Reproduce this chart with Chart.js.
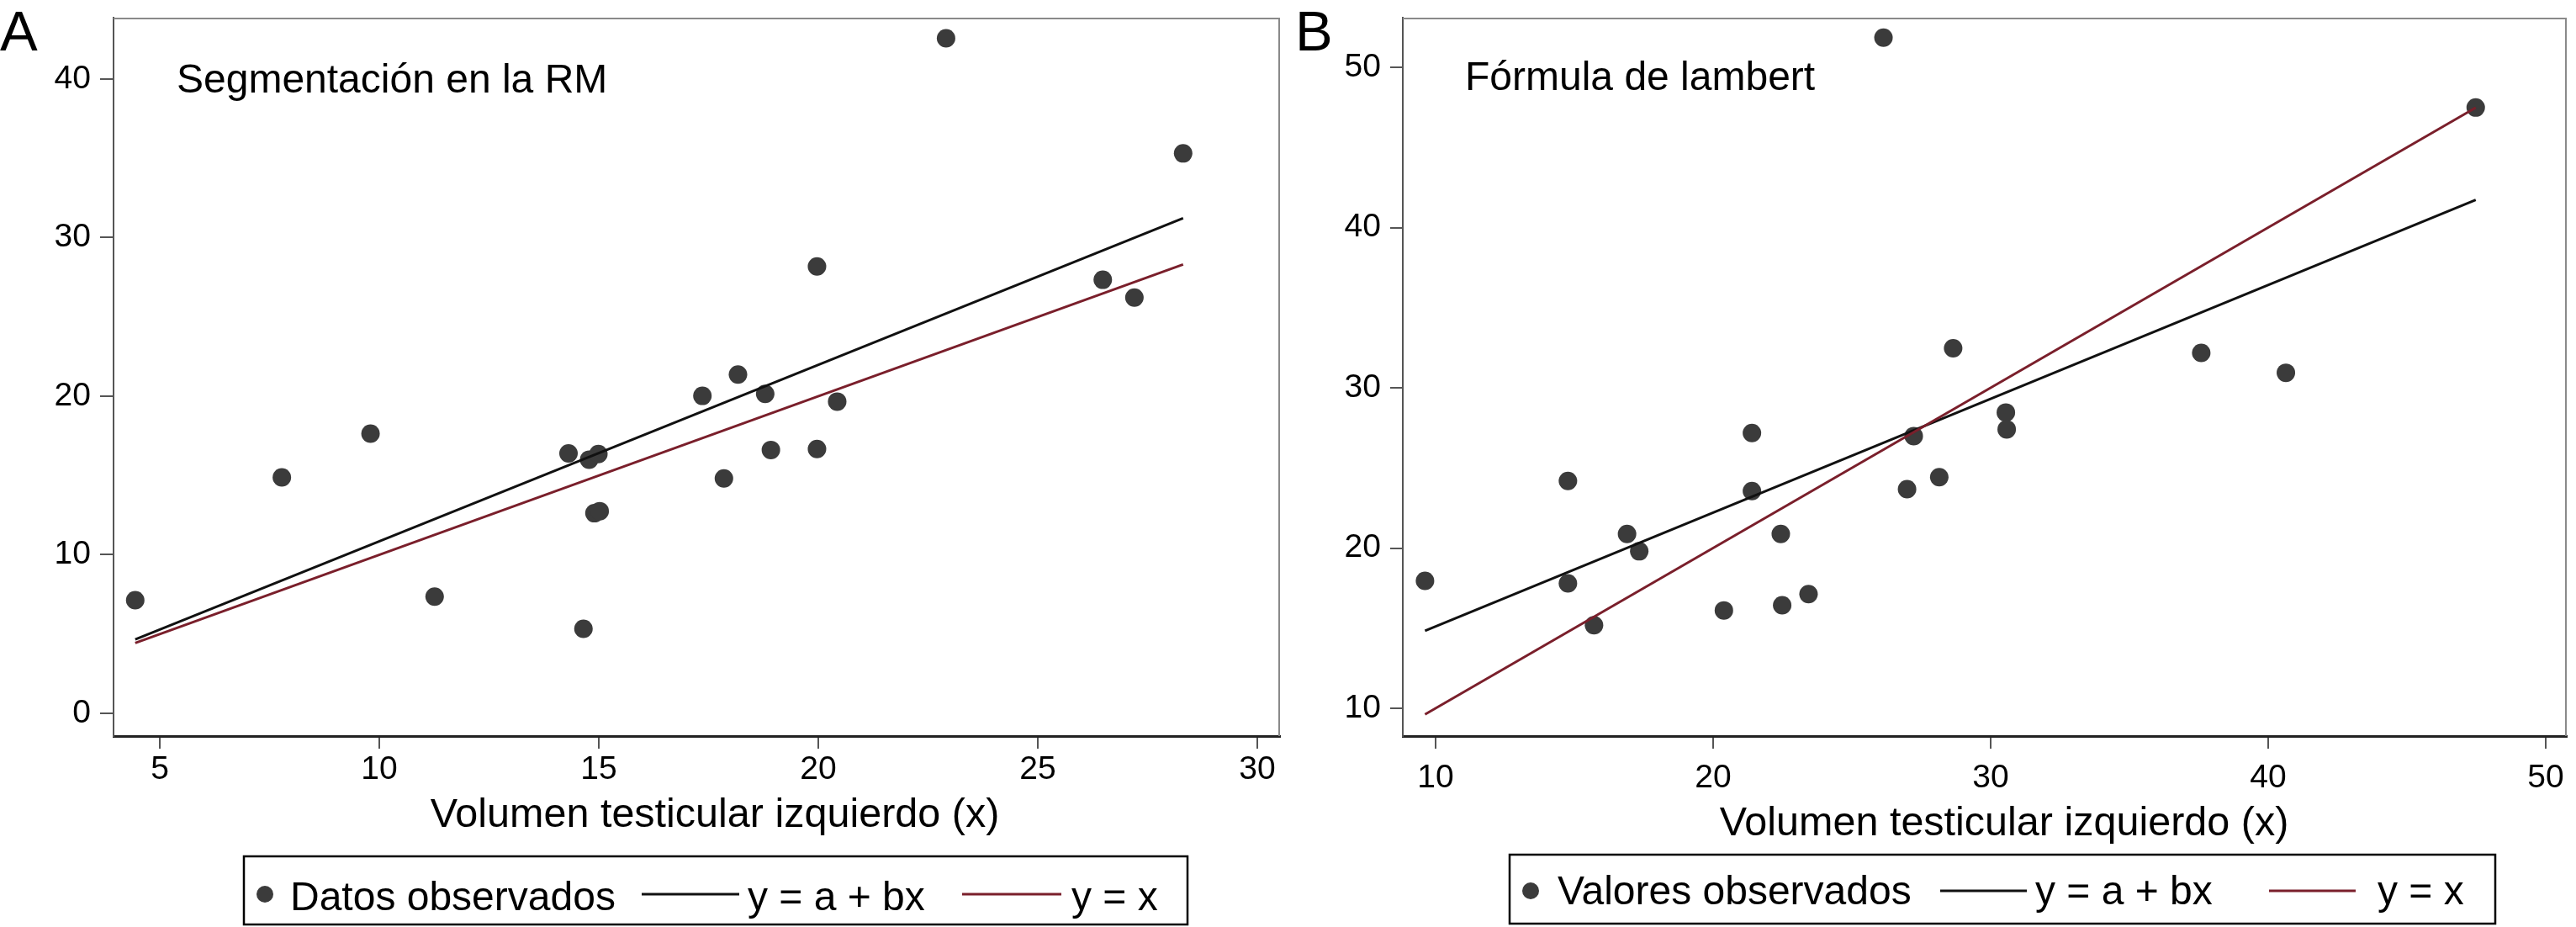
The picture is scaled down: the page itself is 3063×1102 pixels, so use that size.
<!DOCTYPE html>
<html>
<head>
<meta charset="utf-8">
<script src="https://cdn.jsdelivr.net/npm/chart.js@4.4.1/dist/chart.umd.min.js"></script>
<style>
  html, body { margin: 0; padding: 0; background: #fff; }
  body { width: 3063px; height: 1102px; position: relative; overflow: hidden; }
  canvas { position: absolute; top: 0; }
  #cA { left: 0; }
  #cB { left: 1540px; }
</style>
</head>
<body>
<canvas id="cA" width="1540" height="1102"></canvas>
<canvas id="cB" width="1523" height="1102"></canvas>
<script>
// ---------- Panel A: Segmentación en la RM ----------
const panelLabelA = "A";
const noteA = "Segmentación en la RM";
const xTitleA = "Volumen testicular izquierdo (x)";
const xTicksA = [5, 10, 15, 20, 25, 30];
const yTicksA = [0, 10, 20, 30, 40];
const obsLabelA = "Datos observados";
const obsXA = [4.44, 7.78, 9.80, 11.26, 14.31, 14.65, 14.78, 14.99, 14.90, 15.02, 17.36, 17.85, 18.17, 18.79, 18.92, 19.97, 19.97, 20.43, 22.91, 26.48, 27.20, 28.31];
const obsYA = [7.13, 14.88, 17.64, 7.36, 16.39, 5.33, 16.00, 16.35, 12.62, 12.75, 20.02, 14.81, 21.37, 20.14, 16.61, 28.18, 16.67, 19.66, 42.57, 27.34, 26.22, 35.31];
const fitLabelA = "y = a + bx";
const fitXA = [4.44, 28.31];
const fitYA = [4.66, 31.23];
const idLabelA = "y = x";
const idXA = [4.44, 28.31];
const idYA = [4.44, 28.31];

// ---------- Panel B: Fórmula de lambert ----------
const panelLabelB = "B";
const noteB = "Fórmula de lambert";
const xTitleB = "Volumen testicular izquierdo (x)";
const xTicksB = [10, 20, 30, 40, 50];
const yTicksB = [10, 20, 30, 40, 50];
const obsLabelB = "Valores observados";
const obsXB = [9.62, 14.77, 14.77, 15.71, 16.90, 17.34, 20.39, 21.40, 21.40, 22.44, 22.49, 23.44, 26.14, 26.99, 27.23, 28.15, 28.65, 30.55, 30.58, 37.59, 40.64, 47.48];
const obsYB = [17.96, 24.19, 17.80, 15.19, 20.88, 19.80, 16.11, 27.18, 23.56, 20.88, 16.43, 17.13, 51.85, 23.68, 26.99, 24.42, 32.47, 28.46, 27.41, 32.18, 30.94, 47.49];
const fitLabelB = "y = a + bx";
const fitXB = [9.62, 47.48];
const fitYB = [14.84, 41.73];
const idLabelB = "y = x";
const idXB = [9.62, 47.48];
const idYB = [9.62, 47.48];

const FONT = "'Liberation Sans', Arimo, Arial, Helvetica, sans-serif";
const DOT = '#3b3b3b';
const FIT = '#111111';
const IDC = '#7a1f2b';

function pts(xs, ys) { return xs.map((x, i) => ({ x: x, y: ys[i] })); }

const decorPlugin = {
  id: 'decor',
  afterDraw(chart, args, o) {
    const ctx = chart.ctx;
    const a = chart.chartArea;
    ctx.save();
    // top and right frame
    ctx.strokeStyle = '#8a8a8a';
    ctx.lineWidth = 2;
    ctx.beginPath();
    ctx.moveTo(a.left, a.top + 1);
    ctx.lineTo(a.right - 1, a.top + 1);
    ctx.lineTo(a.right - 1, a.bottom);
    ctx.stroke();
    // panel letter
    ctx.fillStyle = '#000';
    ctx.textBaseline = 'alphabetic';
    ctx.textAlign = 'left';
    ctx.font = '67px ' + FONT;
    ctx.fillText(o.letter, o.letterX, 60);
    // note inside plot
    ctx.font = '48px ' + FONT;
    ctx.fillText(o.note, o.noteX, o.noteY);
    // x-axis title
    ctx.textAlign = 'center';
    ctx.font = '48.5px ' + FONT;
    ctx.fillText(o.xTitle, o.titleX, o.titleY);
    // legend
    const L = o.legend;
    const ds = chart.data.datasets;
    ctx.strokeStyle = '#000';
    ctx.lineWidth = 2.5;
    ctx.strokeRect(L.box[0], L.box[1], L.box[2] - L.box[0], L.box[3] - L.box[1]);
    ctx.fillStyle = ds[0].backgroundColor;
    ctx.beginPath();
    ctx.arc(L.dotX, L.symY, 10, 0, Math.PI * 2);
    ctx.fill();
    ctx.lineWidth = 3;
    ctx.strokeStyle = ds[1].borderColor;
    ctx.beginPath(); ctx.moveTo(L.line1[0], L.symY); ctx.lineTo(L.line1[1], L.symY); ctx.stroke();
    ctx.strokeStyle = ds[2].borderColor;
    ctx.beginPath(); ctx.moveTo(L.line2[0], L.symY); ctx.lineTo(L.line2[1], L.symY); ctx.stroke();
    ctx.fillStyle = '#000';
    ctx.textAlign = 'left';
    ctx.font = '48px ' + FONT;
    ctx.fillText(ds[0].label, L.text[0], L.baseY);
    ctx.fillText(ds[1].label, L.text[1], L.baseY);
    ctx.fillText(ds[2].label, L.text[2], L.baseY);
    ctx.restore();
  }
};

function makeChart(id, d) {
  return new Chart(document.getElementById(id), {
    type: 'scatter',
    data: {
      datasets: [
        { label: d.obsLabel, data: pts(d.obsX, d.obsY), backgroundColor: DOT, borderColor: DOT,
          pointRadius: 11, pointBorderWidth: 0, showLine: false, order: 3 },
        { label: d.fitLabel, data: pts(d.fitX, d.fitY), borderColor: FIT, backgroundColor: FIT,
          borderWidth: 3, pointRadius: 0, showLine: true, order: 2 },
        { label: d.idLabel, data: pts(d.idX, d.idY), borderColor: IDC, backgroundColor: IDC,
          borderWidth: 3, pointRadius: 0, showLine: true, order: 1 }
      ]
    },
    options: {
      responsive: false,
      animation: false,
      devicePixelRatio: 1,
      layout: { padding: { left: 0, top: 21, right: d.padRight, bottom: 0 } },
      plugins: {
        legend: { display: false },
        tooltip: { enabled: false },
        decor: d.decor
      },
      scales: {
        x: {
          type: 'linear', min: d.xMin, max: d.xMax,
          afterBuildTicks: s => { s.ticks = d.xTicks.map(v => ({ value: v })); },
          afterFit: s => { s.height = 227; s.paddingLeft = 0; s.paddingRight = 0; },
          ticks: { color: '#000', font: { family: FONT, size: 39, lineHeight: 1 }, padding: d.xPad,
                   maxRotation: 0, autoSkip: false },
          grid: { drawOnChartArea: false, drawTicks: true, tickLength: 15, color: '#555', lineWidth: 2 },
          border: { display: true, color: '#222', width: 3 }
        },
        y: {
          type: 'linear', min: d.yMin, max: d.yMax,
          afterBuildTicks: s => { s.ticks = d.yTicks.map(v => ({ value: v })); },
          afterFit: s => { s.width = d.yWidth; s.paddingTop = 0; s.paddingBottom = 0; },
          ticks: { color: '#000', font: { family: FONT, size: 39, lineHeight: 1 }, padding: 11, autoSkip: false },
          grid: { drawOnChartArea: false, drawTicks: true, tickLength: d.yTick, color: '#555', lineWidth: 2 },
          border: { display: true, color: '#555', width: 2 }
        }
      }
    },
    plugins: [decorPlugin]
  });
}

makeChart('cA', {
  obsLabel: obsLabelA, obsX: obsXA, obsY: obsYA,
  fitLabel: fitLabelA, fitX: fitXA, fitY: fitYA,
  idLabel: idLabelA, idX: idXA, idY: idYA,
  xTicks: xTicksA, yTicks: yTicksA,
  xMin: 3.946, xMax: 30.517, yMin: -1.432, yMax: 43.87,
  padRight: 18, yWidth: 135, yTick: 16, xPad: 6,
  decor: {
    letter: panelLabelA, letterX: 0, note: noteA, noteX: 210, noteY: 110,
    xTitle: xTitleA, titleX: 850, titleY: 983,
    legend: { box: [290, 1018, 1412, 1099], dotX: 315, symY: 1063, baseY: 1082,
              text: [345, 889, 1274], line1: [763, 879], line2: [1144, 1262] }
  }
});

makeChart('cB', {
  obsLabel: obsLabelB, obsX: obsXB, obsY: obsYB,
  fitLabel: fitLabelB, fitX: fitXB, fitY: fitYB,
  idLabel: idLabelB, idX: idXB, idY: idYB,
  xTicks: xTicksB, yTicks: yTicksB,
  xMin: 8.82, xMax: 50.76, yMin: 8.27, yMax: 53.10,
  padRight: 8, yWidth: 128, yTick: 15, xPad: 16,
  decor: {
    letter: panelLabelB, letterX: 0, note: noteB, noteX: 202, noteY: 107,
    xTitle: xTitleB, titleX: 843, titleY: 993,
    legend: { box: [255, 1016, 1427, 1098], dotX: 280, symY: 1059, baseY: 1075,
              text: [312, 880, 1287], line1: [767, 870], line2: [1158, 1261] }
  }
});
</script>
</body>
</html>
